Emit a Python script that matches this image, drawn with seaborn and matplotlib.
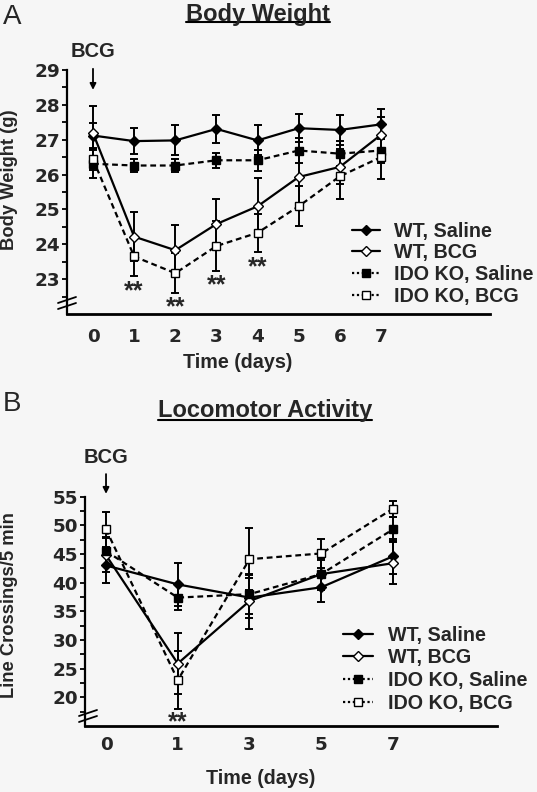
import numpy as np
import pandas as pd
import matplotlib
matplotlib.use("Agg")
import matplotlib.pyplot as plt
from matplotlib.lines import Line2D
import seaborn as sns

# ---------------- data ----------------
# Panel A: Body Weight (g)
days_a = [0, 1, 2, 3, 4, 5, 6, 7]
wt_saline_a = [27.12, 26.96, 26.98, 27.31, 26.98, 27.33, 27.28, 27.44]
wt_saline_a_err = [0.35, 0.38, 0.43, 0.41, 0.43, 0.40, 0.44, 0.43]
wt_bcg_a = [27.19, 24.22, 23.83, 24.58, 25.09, 25.93, 26.22, 27.14]
wt_bcg_a_err = [0.79, 0.70, 0.72, 0.73, 0.80, 0.75, 0.50, 0.50]
ido_saline_a = [26.31, 26.26, 26.26, 26.41, 26.41, 26.69, 26.60, 26.69]
ido_saline_a_err = [0.40, 0.20, 0.20, 0.21, 0.30, 0.35, 0.35, 0.35]
ido_bcg_a = [26.44, 23.65, 23.17, 23.95, 24.33, 25.09, 25.95, 26.50]
ido_bcg_a_err = [0.30, 0.55, 0.57, 0.71, 0.55, 0.57, 0.64, 0.64]
stars_a_days = [1, 2, 3, 4]
stars_a_y = [22.72, 22.27, 22.91, 23.43]

# Panel B: Locomotor Activity (line crossings / 5 min)
days_b = ["0", "1", "3", "5", "7"]
wt_saline_b = [43.0, 39.7, 37.4, 39.2, 44.6]
wt_saline_b_err = [3.1, 3.8, 3.5, 2.5, 3.0]
wt_bcg_b = [44.8, 25.9, 36.8, 41.5, 43.4]
wt_bcg_b_err = [3.0, 5.3, 4.8, 2.5, 3.7]
ido_saline_b = [45.5, 37.4, 38.0, 41.5, 49.3]
ido_saline_b_err = [2.5, 2.2, 3.4, 2.8, 2.1]
ido_bcg_b = [49.3, 23.0, 44.1, 45.1, 52.9]
ido_bcg_b_err = [3.1, 5.1, 5.4, 2.6, 1.4]
stars_b_idx = [1]
stars_b_y = [16.2]

labels = ["WT, Saline", "WT, BCG", "IDO KO, Saline", "IDO KO, BCG"]

# ---------------- style ----------------
sns.set_style("ticks")
plt.rcParams["font.family"] = ["Liberation Sans", "DejaVu Sans"]
plt.rcParams["font.weight"] = "bold"
plt.rcParams["axes.labelweight"] = "bold"

BG = "#f6f6f6"
W, H = 537, 792
fig = plt.figure(figsize=(W / 100, H / 100), dpi=100, facecolor=BG)

styles = [
    dict(marker="D", ms=5.4, mfc="black", ls="-", z=3),
    dict(marker="D", ms=5.4, mfc="white", ls="-", z=4),
    dict(marker="s", ms=6.2, mfc="black", ls=(0, (2.6, 1.7)), z=5),
    dict(marker="s", ms=6.2, mfc="white", ls=(0, (2.6, 1.7)), z=6),
]
TICKFONT = dict(family=["DejaVu Sans"], weight="bold", size=13.2)


def px_axes(l, t, r, b):
    return fig.add_axes([l / W, 1 - b / H, (r - l) / W, (b - t) / H])


def draw_series(ax, x, series):
    for (y, e), st in zip(series, styles):
        ax.errorbar(x, y, yerr=e, fmt="none", ecolor="black", elinewidth=1.4,
                    capsize=2.6, capthick=1.4, zorder=2)
    for (y, e), st in zip(series, styles):
        sns.lineplot(x=x, y=y, ax=ax, color="black", linestyle=st["ls"], lw=1.6,
                     marker=st["marker"], markersize=st["ms"],
                     markerfacecolor=st["mfc"], markeredgecolor="black",
                     markeredgewidth=1.0, zorder=st["z"], legend=False,
                     errorbar=None)


def style_axes(ax):
    ax.set_facecolor(BG)
    for s in ["top", "right"]:
        ax.spines[s].set_visible(False)
    ax.spines["left"].set_linewidth(1.6)
    ax.spines["bottom"].set_linewidth(2.0)
    ax.spines["left"].set_color("black")
    ax.spines["bottom"].set_color("black")
    ax.tick_params(axis="y", which="both", direction="out", length=3.5,
                   width=1.3, color="black", pad=1.5)
    ax.tick_params(axis="x", length=0, pad=10)
    ax.set_xlabel("")
    ax.set_ylabel("")


def fix_ticklabels(ax):
    for lab in ax.get_xticklabels() + ax.get_yticklabels():
        lab.set_fontfamily(TICKFONT["family"])
        lab.set_fontweight(TICKFONT["weight"])
        lab.set_fontsize(TICKFONT["size"])


def legend(ax, anchor_px, hl, htp, ls):
    handles = []
    for st in styles:
        lstyle = "-" if st["ls"] == "-" else (0, (1, 1.2))
        handles.append(Line2D([], [], color="black", lw=1.6, ls=lstyle,
                              marker=st["marker"], ms=st["ms"],
                              mfc=st["mfc"], mec="black", mew=1.0))
    ax.legend(handles, labels, loc="upper left",
              bbox_to_anchor=(anchor_px[0] / W, 1 - anchor_px[1] / H),
              bbox_transform=fig.transFigure, frameon=False, borderpad=0,
              borderaxespad=0, handlelength=hl, handletextpad=htp,
              labelspacing=ls, fontsize=14.2, numpoints=1)


def break_marks(x0, y0):
    for dy in (0, 6):
        fig.add_artist(Line2D([(x0 - 9) / W, (x0 + 9) / W],
                              [1 - (y0 + dy + 3) / H, 1 - (y0 + dy - 3) / H],
                              color="black", lw=1.3))


# ---------------- Panel A ----------------
axA = px_axes(67, 70, 490, 314)
style_axes(axA)
draw_series(axA, days_a, [(wt_saline_a, wt_saline_a_err), (wt_bcg_a, wt_bcg_a_err),
                          (ido_saline_a, ido_saline_a_err), (ido_bcg_a, ido_bcg_a_err)])
axA.set_xlim(-0.632, 9.65)
axA.set_ylim(22, 29)
axA.set_xticks(days_a)
axA.set_xticklabels([str(d) for d in days_a])
axA.set_yticks(np.arange(23, 30, 1))
axA.set_yticks(np.arange(22.5, 29.0, 0.5), minor=True)
axA.spines["left"].set_bounds(22, 29)
fix_ticklabels(axA)
for d, yv in zip(stars_a_days, stars_a_y):
    axA.text(d, yv - 0.08, "**", ha="center", va="center", fontsize=18)
axA.annotate("BCG", xy=(0, 28.43), xytext=(0, 29.52), ha="center", va="center",
             fontsize=14.5, annotation_clip=False,
             arrowprops=dict(arrowstyle="-|>", color="black", lw=1.3,
                             mutation_scale=9, shrinkA=3, shrinkB=0))
legend(axA, (352, 221.5), 1.42, 0.71, 0.14)
break_marks(67, 300)

# ---------------- Panel B ----------------
axB = px_axes(85, 496.7, 497, 726)
style_axes(axB)
pos_b = np.arange(len(days_b))
draw_series(axB, pos_b, [(wt_saline_b, wt_saline_b_err), (wt_bcg_b, wt_bcg_b_err),
                         (ido_saline_b, ido_saline_b_err), (ido_bcg_b, ido_bcg_b_err)])
axB.set_xlim(-0.293, 5.45)
axB.set_ylim(15, 55)
axB.set_xticks(pos_b)
axB.set_xticklabels(days_b)
axB.tick_params(axis="x", pad=7)
axB.set_yticks(np.arange(20, 56, 5))
axB.set_yticks(np.arange(17.5, 55, 2.5), minor=True)
axB.spines["left"].set_bounds(15, 55)
fix_ticklabels(axB)
for i, yv in zip(stars_b_idx, stars_b_y):
    axB.text(pos_b[i], yv - 0.5, "**", ha="center", va="center", fontsize=18)
axB.annotate("BCG", xy=(0, 55.5), xytext=(0, 61.9), ha="center", va="center",
             fontsize=14.5, annotation_clip=False,
             arrowprops=dict(arrowstyle="-|>", color="black", lw=1.3,
                             mutation_scale=9, shrinkA=3, shrinkB=0))
legend(axB, (343, 625.5), 1.52, 0.76, 0.19)
break_marks(88, 713)

# ---------------- figure texts ----------------
fig.text(3 / W, 1 - 17 / H, "A", fontsize=20, fontweight="normal", va="center", ha="left")
fig.text(3 / W, 1 - 404 / H, "B", fontsize=20, fontweight="normal", va="center", ha="left")

t1 = fig.text(258 / W, 1 - 14 / H, "Body Weight", fontsize=17, ha="center", va="center")
t2 = fig.text(265 / W, 1 - 411 / H, "Locomotor Activity", fontsize=17, ha="center", va="center")

fig.text(10 / W, 1 - 180 / H, "Body Weight (g)", rotation=90, fontsize=13.2,
         ha="center", va="center")
fig.text(10 / W, 1 - 605 / H, "Line Crossings/5 min", rotation=90, fontsize=13.2,
         ha="center", va="center")
fig.text(238 / W, 1 - 363 / H, "Time (days)", fontsize=14.2, ha="center", va="center")
fig.text(261 / W, 1 - 778 / H, "Time (days)", fontsize=14.2, ha="center", va="center")

# underline titles
fig.canvas.draw()
r = fig.canvas.get_renderer()
for t, yu in ((t1, 22), (t2, 420)):
    bb = t.get_window_extent(renderer=r)
    fig.add_artist(Line2D([bb.x0 / W, bb.x1 / W], [1 - yu / H, 1 - yu / H],
                          color="black", lw=1.5))

fig.savefig("out.png", dpi=100, facecolor=BG)
